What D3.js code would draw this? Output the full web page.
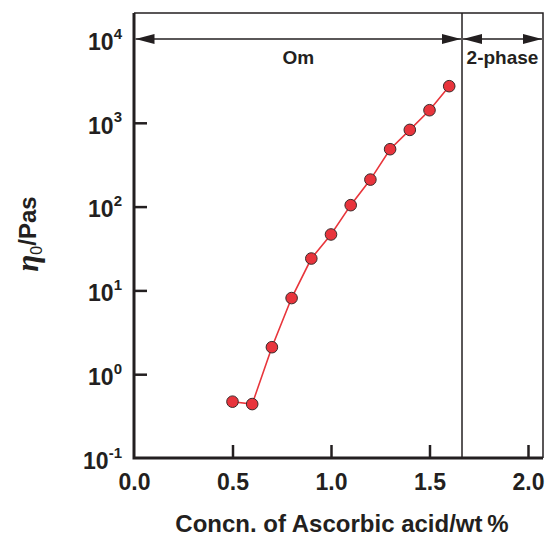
<!DOCTYPE html>
<html>
<head>
<meta charset="utf-8">
<script src="https://cdn.jsdelivr.net/npm/d3@7"></script>
<style>
  body { margin: 0; background: #fff; }
  text { font-family: "Liberation Sans", Arial, sans-serif; font-weight: bold; fill: #231f20; }
</style>
</head>
<body>
<svg id="chart" width="547" height="538"></svg>
<script>
// data
var conc = [0.5, 0.6, 0.7, 0.8, 0.9, 1.0, 1.1, 1.2, 1.3, 1.4, 1.5, 1.6];
var eta0 = [0.47, 0.44, 2.1, 8.1, 24, 46.5, 104, 210, 484, 823, 1413, 2735];
var xTicks = [0, 0.5, 1.0, 1.5, 2.0];
var yExps = [-1, 0, 1, 2, 3, 4];
var phaseBoundary = 1.665;
var phaseLabels = ["Om", "2-phase"];

var svg = d3.select("#chart");
var plotL = 134, plotR = 543, plotT = 13, plotB = 458;

var x = d3.scaleLinear()
  .domain([0, 2.0])
  .range([plotL, 528]);

var y = d3.scaleLog()
  .domain([0.1, 10000])
  .range([plotB, 39]);

var xMax = x.invert(plotR);
var yMax = y.invert(plotT);

var ink = "#231f20";

/* axes */
var xAxis = svg.append("g")
  .attr("transform", "translate(0," + plotB + ")")
  .call(d3.axisBottom(x).tickValues(xTicks).tickSizeInner(-13).tickSizeOuter(0).tickFormat(d3.format(".1f")));
xAxis.select(".domain").remove();
xAxis.selectAll(".tick line").attr("stroke", ink).attr("stroke-width", 2.5)
  .filter(function(d) { return d === 0; }).remove();
xAxis.selectAll(".tick text")
  .attr("y", 32)
  .attr("dy", 0)
  .style("font-size", "23px");

var yAxis = svg.append("g")
  .attr("transform", "translate(" + plotL + ",0)")
  .call(d3.axisLeft(y).tickValues(yExps.map(function(e) { return Math.pow(10, e); }))
    .tickSizeInner(-13).tickSizeOuter(0).tickFormat(""));
yAxis.select(".domain").remove();
yAxis.selectAll(".tick line").attr("stroke", ink).attr("stroke-width", 2.5)
  .filter(function(d) { return d === 0.1 || d === 10000; }).remove();
var yLab = yAxis.selectAll(".tick").append("text")
  .attr("x", -12)
  .attr("y", 0)
  .attr("dy", "0.45em")
  .attr("text-anchor", "end")
  .style("font-size", "23px");
yLab.append("tspan").text("10");
yLab.append("tspan")
  .attr("dy", "-0.75em")
  .style("font-size", "15px")
  .text(function(d) { return String(Math.round(Math.log10(d))); });

/* frame */
svg.append("path")
  .attr("d", "M" + plotL + "," + plotT + "H" + plotR + "V" + plotB)
  .attr("fill", "none").attr("stroke", ink).attr("stroke-width", 1.5);
svg.append("path")
  .attr("d", "M" + plotL + "," + plotT + "V" + plotB + "H" + plotR)
  .attr("fill", "none").attr("stroke", ink).attr("stroke-width", 3);

svg.append("line")
  .attr("x1", x(phaseBoundary)).attr("x2", x(phaseBoundary))
  .attr("y1", y(yMax)).attr("y2", y(0.1))
  .attr("stroke", ink).attr("stroke-width", 1.5);

/* double arrows for the phase regions */
function arrowHead(px, py, dir) {
  var len = 19, half = 5;
  return "M" + px + "," + py + "L" + (px + dir * len) + "," + (py - half) +
    "L" + (px + dir * len) + "," + (py + half) + "Z";
}
var ranges = [[0, phaseBoundary], [phaseBoundary, xMax]];
ranges.forEach(function(r, i) {
  var x0 = x(r[0]) + (i === 0 ? 1.5 : 1), x1 = x(r[1]) - 1, ay = y(10000);
  svg.append("line")
    .attr("x1", x0).attr("x2", x1).attr("y1", ay).attr("y2", ay)
    .attr("stroke", ink).attr("stroke-width", 1.3);
  svg.append("path").attr("d", arrowHead(x0, ay, 1)).attr("fill", ink);
  svg.append("path").attr("d", arrowHead(x1, ay, -1)).attr("fill", ink);
  svg.append("text")
    .attr("x", (x0 + x1) / 2)
    .attr("y", ay + 25)
    .attr("text-anchor", "middle")
    .style("font-size", "19px")
    .text(phaseLabels[i]);
});

/* data */
var pts = conc.map(function(c, i) { return { x: c, y: eta0[i] }; });

svg.append("path")
  .datum(pts)
  .attr("fill", "none")
  .attr("stroke", "#e8353b")
  .attr("stroke-width", 1.6)
  .attr("d", d3.line().x(function(d) { return x(d.x); }).y(function(d) { return y(d.y); }));

svg.selectAll("circle.pt")
  .data(pts)
  .enter().append("circle")
  .attr("class", "pt")
  .attr("cx", function(d) { return x(d.x); })
  .attr("cy", function(d) { return y(d.y); })
  .attr("r", 5.8)
  .attr("fill", "#e8343c")
  .attr("stroke", "#3a2a2a")
  .attr("stroke-width", 1);

/* axis titles */
svg.append("text")
  .attr("x", 342)
  .attr("y", 532)
  .attr("text-anchor", "middle")
  .style("font-size", "24px")
  .text("Concn. of Ascorbic acid/wt\u2009%");

var yt = svg.append("text")
  .attr("transform", "translate(38,234) rotate(-90)")
  .attr("text-anchor", "middle")
  .style("font-size", "24px");
yt.append("tspan")
  .style("font-family", "'Liberation Serif', 'DejaVu Serif', serif")
  .style("font-style", "italic")
  .style("font-size", "31px")
  .text("\u03b7");
yt.append("tspan")
  .attr("dy", "0.25em")
  .style("font-size", "16px")
  .style("font-weight", "normal")
  .text("0");
yt.append("tspan")
  .attr("dy", "-0.25em")
  .text("/Pas");
</script>
</body>
</html>
